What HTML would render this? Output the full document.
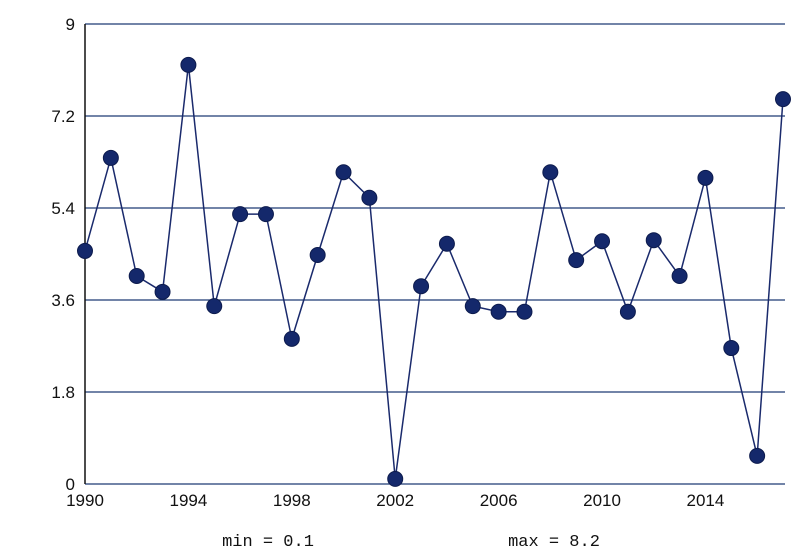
<!DOCTYPE html>
<html><head><meta charset="utf-8"><style>
html,body{margin:0;padding:0;background:#fff;}
svg{display:block;font-family:"Liberation Sans",sans-serif;}
</style></head><body>
<svg id="chart" width="800" height="560"></svg>
<script>
const years=[1990,1991,1992,1993,1994,1995,1996,1997,1998,1999,2000,2001,2002,2003,2004,2005,2006,2007,2008,2009,2010,2011,2012,2013,2014,2015,2016,2017];
const values=[4.56,6.38,4.07,3.76,8.2,3.48,5.28,5.28,2.84,4.48,6.1,5.6,0.1,3.87,4.7,3.48,3.37,3.37,6.1,4.38,4.75,3.37,4.77,4.07,5.99,2.66,0.55,7.53];
const yTicks=[0,1.8,3.6,5.4,7.2,9];
const yTickLabels=["0","1.8","3.6","5.4","7.2","9"];
const xTicks=[1990,1994,1998,2002,2006,2010,2014];
const minLabel="min = 0.1", maxLabel="max = 8.2";

const NS="http://www.w3.org/2000/svg";
const svg=document.getElementById('chart');
const x0=85,x1=783,yTop=24,yBot=484;
const xs=y=>x0+(y-1990)/(2017-1990)*(x1-x0);
const ys=v=>yBot-v/9*(yBot-yTop);
function mk(t,a,p){const e=document.createElementNS(NS,t);for(const k in a)e.setAttribute(k,a[k]);(p||svg).appendChild(e);return e;}

yTicks.forEach((v,i)=>{
  const l=mk('line',{x1:x0,x2:785,y1:ys(v),y2:ys(v),stroke:'#1f3b73','stroke-width':1.3});
  
  
  const t=mk('text',{x:x0-10,y:ys(v)+6,'text-anchor':'end','font-size':17,fill:'#111'});
  t.textContent=yTickLabels[i];
  
  
});
const ax=mk('line',{x1:x0,x2:x0,y1:yTop,y2:yBot,stroke:'#111','stroke-width':1.5});


xTicks.forEach(y=>{
  const t=mk('text',{x:xs(y),y:506,'text-anchor':'middle','font-size':17,fill:'#111'});
  t.textContent=y;
  
  
});
const pl=mk('polyline',{points:years.map((y,i)=>xs(y)+','+ys(values[i])).join(' '),fill:'none',stroke:'#1a2a6c','stroke-width':1.5});


years.forEach((y,i)=>{
  const c=mk('circle',{cx:xs(y),cy:ys(values[i]),r:7.5,fill:'#14286b',stroke:'#0d1b4d','stroke-width':1});
  
  
});
const mn=mk('text',{x:268,y:546,'text-anchor':'middle','font-size':17,fill:'#111','font-family':'Liberation Mono, monospace'});
mn.textContent=minLabel;


const mx=mk('text',{x:554,y:546,'text-anchor':'middle','font-size':17,fill:'#111','font-family':'Liberation Mono, monospace'});
mx.textContent=maxLabel;


</script>
</body></html>
